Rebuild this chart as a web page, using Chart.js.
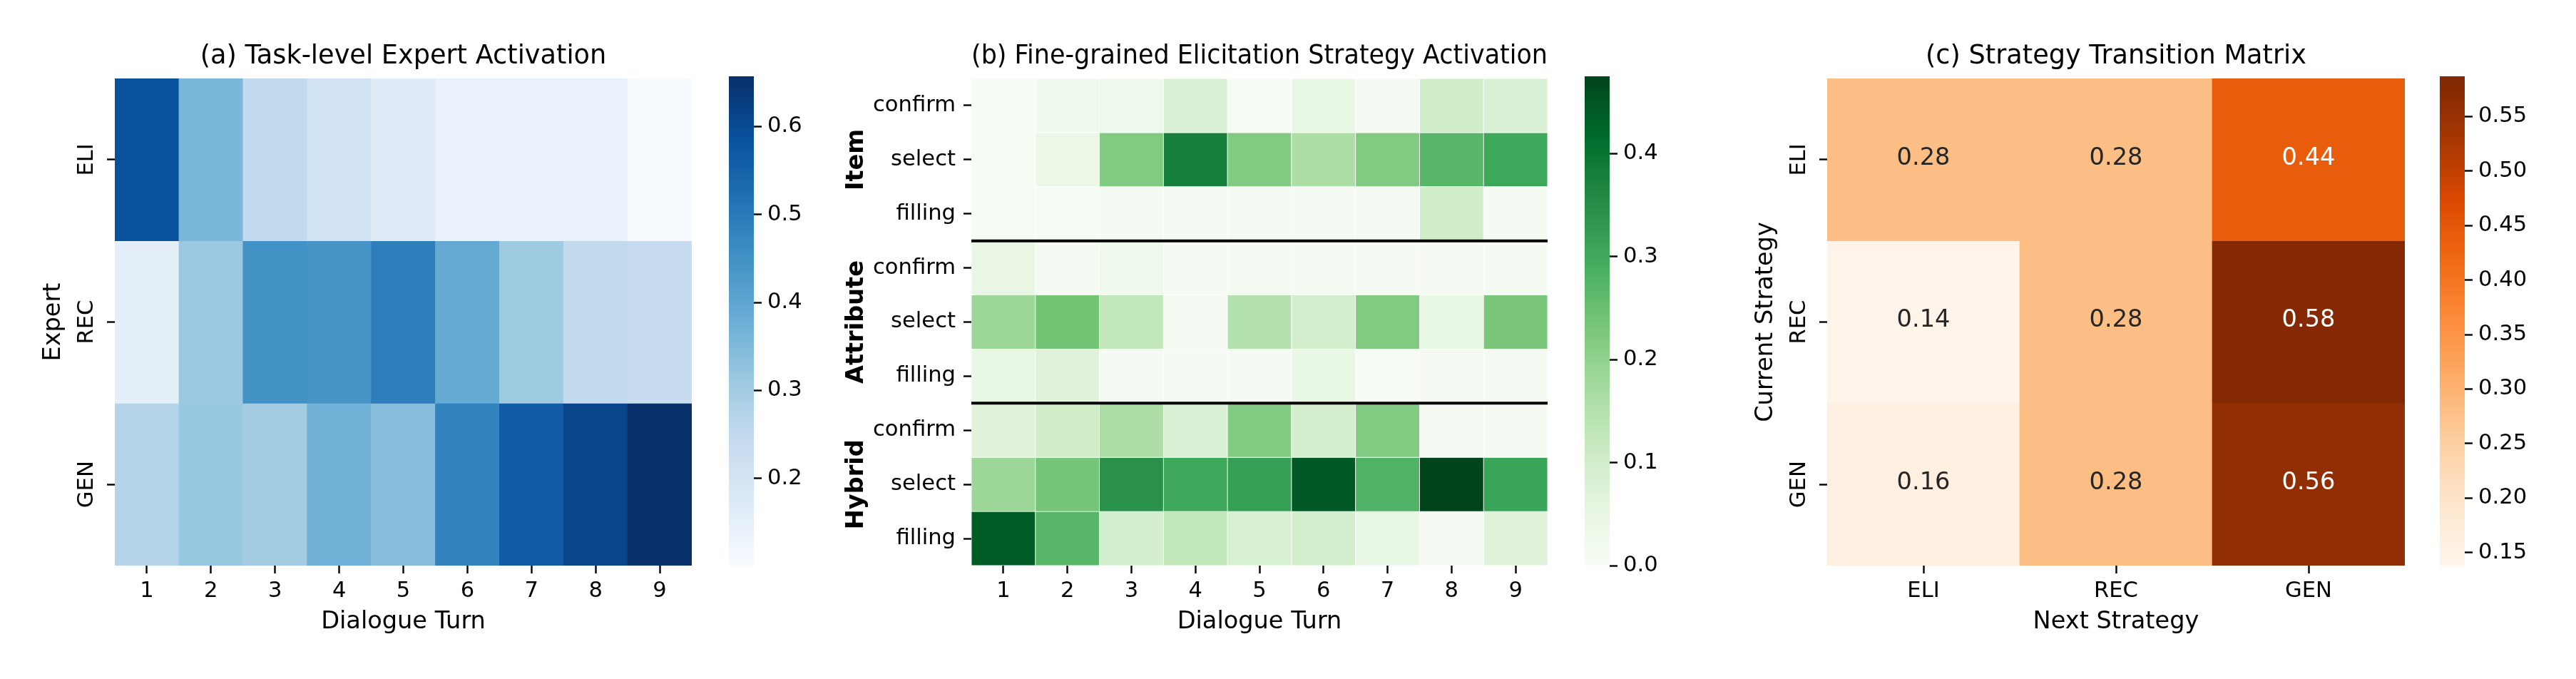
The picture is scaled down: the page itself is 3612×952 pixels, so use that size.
<!DOCTYPE html>
<html>
<head>
<meta charset="utf-8">
<script src="https://cdn.jsdelivr.net/npm/chart.js@4.4.0/dist/chart.umd.min.js"></script>
<style>
  html, body { margin: 0; padding: 0; background: #fff; }
  #wrap { position: relative; width: 3612px; height: 952px; overflow: hidden; }
  canvas { position: absolute; top: 0; }
</style>
</head>
<body>
<div id="wrap">
  <canvas id="barA" width="200" height="952" style="left:1022px"></canvas>
  <canvas id="barB" width="200" height="952" style="left:2222px"></canvas>
  <canvas id="barC" width="200" height="952" style="left:3421px"></canvas>
  <canvas id="heatA" width="1000" height="952" style="left:0px"></canvas>
  <canvas id="heatB" width="1050" height="952" style="left:1150px"></canvas>
  <canvas id="heatC" width="1000" height="952" style="left:2401px"></canvas>
</div>
<script>
// --- data ---
const turns = ['1', '2', '3', '4', '5', '6', '7', '8', '9'];
const experts = ['ELI', 'REC', 'GEN'];

// (a) expert activation per turn
const eliActivation = [0.588, 0.357, 0.246, 0.207, 0.168, 0.140, 0.140, 0.140, 0.101];
const recActivation = [0.151, 0.312, 0.448, 0.440, 0.490, 0.390, 0.307, 0.246, 0.234];
const genActivation = [0.268, 0.318, 0.301, 0.368, 0.340, 0.480, 0.563, 0.613, 0.657];

// (b) fine-grained strategies, grouped
const groups = ['Item', 'Attribute', 'Hybrid'];
const strategies = ['confirm', 'select', 'filling'];
const itemConfirm   = [0.004, 0.024, 0.025, 0.080, 0.004, 0.045, 0.005, 0.100, 0.080];
const itemSelect    = [0.004, 0.040, 0.220, 0.380, 0.220, 0.160, 0.220, 0.270, 0.305];
const itemFilling   = [0.003, 0.004, 0.005, 0.005, 0.005, 0.005, 0.005, 0.100, 0.006];
const attrConfirm   = [0.050, 0.005, 0.025, 0.007, 0.007, 0.007, 0.007, 0.007, 0.007];
const attrSelect    = [0.185, 0.237, 0.125, 0.005, 0.150, 0.095, 0.220, 0.045, 0.230];
const attrFilling   = [0.045, 0.070, 0.005, 0.005, 0.005, 0.045, 0.003, 0.005, 0.005];
const hybridConfirm = [0.070, 0.100, 0.160, 0.080, 0.220, 0.095, 0.220, 0.005, 0.007];
const hybridSelect  = [0.185, 0.235, 0.345, 0.305, 0.320, 0.445, 0.280, 0.475, 0.310];
const hybridFilling = [0.440, 0.270, 0.095, 0.128, 0.085, 0.095, 0.045, 0.005, 0.070];

// (c) transition matrix (rows: current, cols: next)
const fromEli = [0.28, 0.28, 0.44];
const fromRec = [0.14, 0.28, 0.58];
const fromGen = [0.16, 0.28, 0.56];

// colour ranges and colourbar ticks
const rangeA = [0.101, 0.657];
const rangeB = [0, 0.475];
const rangeC = [0.138, 0.587];
const ticksA = [0.2, 0.3, 0.4, 0.5, 0.6];
const ticksB = [0.0, 0.1, 0.2, 0.3, 0.4];
const ticksC = [0.15, 0.20, 0.25, 0.30, 0.35, 0.40, 0.45, 0.50, 0.55];

// matplotlib colormaps (colorbrewer stops)
const BLUES = ['#f7fbff', '#deebf7', '#c6dbef', '#9ecae1', '#6baed6', '#4292c6', '#2171b5', '#08519c', '#08306b'];
const GREENS = ['#f7fcf5', '#e5f5e0', '#c7e9c0', '#a1d99b', '#74c476', '#41ab5d', '#238b45', '#006d2c', '#00441b'];
const ORANGES = ['#fff5eb', '#fee6ce', '#fdd0a2', '#fdae6b', '#fd8d3c', '#f16913', '#d94801', '#a63603', '#7f2704'];

Chart.defaults.font.family = "'DejaVu Sans'";
Chart.defaults.color = '#000';

const TICK = 30.6, LABEL = 33.6, TITLE = 36.7;

function hexRgb(h) {
  return [1, 3, 5].map(i => parseInt(h.substr(i, 2), 16));
}

function cmapRgb(stops, t) {
  t = Math.min(1, Math.max(0, t));
  const pos = t * (stops.length - 1);
  const i = Math.min(stops.length - 2, Math.floor(pos));
  const f = pos - i;
  const a = hexRgb(stops[i]), b = hexRgb(stops[i + 1]);
  return a.map((v, k) => Math.round(v + (b[k] - v) * f));
}

function rgbStr(c) { return 'rgb(' + c.join(',') + ')'; }

function luminance(c) {
  const l = c.map(v => {
    v /= 255;
    return v <= 0.03928 ? v / 12.92 : Math.pow((v + 0.055) / 1.055, 2.4);
  });
  return 0.2126 * l[0] + 0.7152 * l[1] + 0.0722 * l[2];
}

const tickGrid = {
  drawOnChartArea: false, drawTicks: true, offset: false,
  tickLength: 11, tickWidth: 2.4, tickColor: '#000'
};

function heatmap(id, cfg) {
  const { cols, rows, values, cmap, range, title, xTitle, yTitle, yWidth, rotateY, border, plugins } = cfg;
  const datasets = rows.map((row, r) => ({
    label: row,
    data: cols.map(() => [r, r + 1]),
    backgroundColor: values[r].map(v => rgbStr(cmapRgb(cmap, (v - range[0]) / (range[1] - range[0])))),
    borderColor: '#ffffff',
    borderWidth: border,
    borderSkipped: false,
    barPercentage: 1,
    categoryPercentage: 1,
    grouped: false
  }));

  return new Chart(document.getElementById(id), {
    type: 'bar',
    data: { labels: cols, datasets: datasets },
    plugins: plugins || [],
    options: {
      responsive: false,
      animation: false,
      events: [],
      layout: { padding: { left: 0, right: cfg.padRight, top: 0, bottom: 0 } },
      plugins: {
        legend: { display: false },
        tooltip: { enabled: false },
        title: {
          display: true, text: title, fullSize: false,
          font: { size: TITLE, weight: 'normal' }, color: '#000',
          padding: { top: 57, bottom: 9 }
        }
      },
      scales: {
        x: {
          type: 'category', offset: true,
          grid: tickGrid,
          border: { display: false },
          ticks: { font: { size: TICK }, color: '#000', padding: 7, maxRotation: 0, autoSkip: false },
          title: { display: true, text: xTitle, font: { size: LABEL }, color: '#000', padding: { top: 0, bottom: 60 } },
          afterFit: s => { s.height = 159; }
        },
        y: {
          type: 'linear', min: 0, max: rows.length, reverse: true,
          afterBuildTicks: s => { s.ticks = rows.map((_, i) => ({ value: i + 0.5 })); },
          grid: tickGrid,
          border: { display: false },
          ticks: {
            font: { size: TICK }, color: '#000',
            padding: rotateY ? -5 : 11,
            minRotation: rotateY ? 90 : 0, maxRotation: rotateY ? 90 : 0,
            crossAlign: rotateY ? 'center' : 'near',
            callback: v => rows[Math.floor(v)]
          },
          title: {
            display: !!yTitle, text: yTitle || '', font: { size: LABEL }, color: '#000',
            padding: { top: 55.6, bottom: 0 }
          },
          afterFit: s => { s.width = yWidth; }
        }
      }
    }
  });
}

function colorbar(id, cmap, range, ticks, decimals) {
  return new Chart(document.getElementById(id), {
    type: 'bar',
    data: {
      labels: [''],
      datasets: [{
        data: [[range[0], range[1]]],
        backgroundColor: ctx => {
          const area = ctx.chart.chartArea;
          if (!area) return null;
          const g = ctx.chart.ctx.createLinearGradient(0, area.bottom, 0, area.top);
          cmap.forEach((c, i) => g.addColorStop(i / (cmap.length - 1), c));
          return g;
        },
        borderWidth: 0,
        barPercentage: 1,
        categoryPercentage: 1
      }]
    },
    options: {
      responsive: false,
      animation: false,
      events: [],
      layout: { padding: { left: 0, right: 0, top: 107, bottom: 159 } },
      plugins: { legend: { display: false }, tooltip: { enabled: false } },
      scales: {
        x: { display: false },
        y: {
          position: 'right', min: range[0], max: range[1],
          afterBuildTicks: s => { s.ticks = ticks.map(v => ({ value: v })); },
          grid: tickGrid,
          border: { display: false },
          ticks: { font: { size: TICK }, color: '#000', padding: 8, callback: v => v.toFixed(decimals) },
          afterFit: s => { s.width = 165; }
        }
      }
    }
  });
}

// separators and bold group names for panel (b)
const groupMarks = {
  id: 'groupMarks',
  afterDatasetsDraw(chart) {
    const { ctx, chartArea, scales } = chart;
    const n = strategies.length;
    ctx.save();
    ctx.strokeStyle = '#000';
    ctx.lineWidth = 4;
    groups.forEach((g, i) => {
      if (i > 0) {
        const py = scales.y.getPixelForValue(i * n);
        ctx.beginPath();
        ctx.moveTo(chartArea.left, py);
        ctx.lineTo(chartArea.right, py);
        ctx.stroke();
      }
      ctx.save();
      ctx.translate(60, scales.y.getPixelForValue(i * n + n / 2));
      ctx.rotate(-Math.PI / 2);
      ctx.font = "bold " + LABEL + "px 'DejaVu Sans'";
      ctx.fillStyle = '#000';
      ctx.textAlign = 'center';
      ctx.textBaseline = 'alphabetic';
      ctx.fillText(g, 0, 0);
      ctx.restore();
    });
    ctx.restore();
  }
};

// cell annotations for panel (c)
const transRows = [fromEli, fromRec, fromGen];
const annotate = {
  id: 'annotate',
  afterDatasetsDraw(chart) {
    const ctx = chart.ctx;
    ctx.save();
    ctx.font = LABEL + "px 'DejaVu Sans'";
    ctx.textAlign = 'center';
    ctx.textBaseline = 'middle';
    transRows.forEach((row, r) => {
      const meta = chart.getDatasetMeta(r);
      row.forEach((v, j) => {
        const p = meta.data[j].getCenterPoint();
        const c = cmapRgb(ORANGES, (v - rangeC[0]) / (rangeC[1] - rangeC[0]));
        ctx.fillStyle = luminance(c) > 0.408 ? '#262626' : '#ffffff';
        ctx.fillText(v.toFixed(2), p.x, p.y - 2);
      });
    });
    ctx.restore();
  }
};

heatmap('heatA', {
  cols: turns, rows: experts,
  values: [eliActivation, recActivation, genActivation],
  cmap: BLUES, range: rangeA,
  title: '(a) Task-level Expert Activation',
  xTitle: 'Dialogue Turn', yTitle: 'Expert',
  yWidth: 161, padRight: 30, rotateY: true, border: 0
});

heatmap('heatB', {
  cols: turns,
  rows: groups.flatMap(() => strategies),
  values: [itemConfirm, itemSelect, itemFilling, attrConfirm, attrSelect, attrFilling,
           hybridConfirm, hybridSelect, hybridFilling],
  cmap: GREENS, range: rangeB,
  title: '(b) Fine-grained Elicitation Strategy Activation',
  xTitle: 'Dialogue Turn', yTitle: null,
  yWidth: 212, padRight: 30, rotateY: false, border: 0.8,
  plugins: [groupMarks]
});

heatmap('heatC', {
  cols: experts, rows: experts,
  values: transRows,
  cmap: ORANGES, range: rangeC,
  title: '(c) Strategy Transition Matrix',
  xTitle: 'Next Strategy', yTitle: 'Current Strategy',
  yWidth: 161, padRight: 29, rotateY: true, border: 0,
  plugins: [annotate]
});

colorbar('barA', BLUES, rangeA, ticksA, 1);
colorbar('barB', GREENS, rangeB, ticksB, 1);
colorbar('barC', ORANGES, rangeC, ticksC, 2);
</script>
</body>
</html>
